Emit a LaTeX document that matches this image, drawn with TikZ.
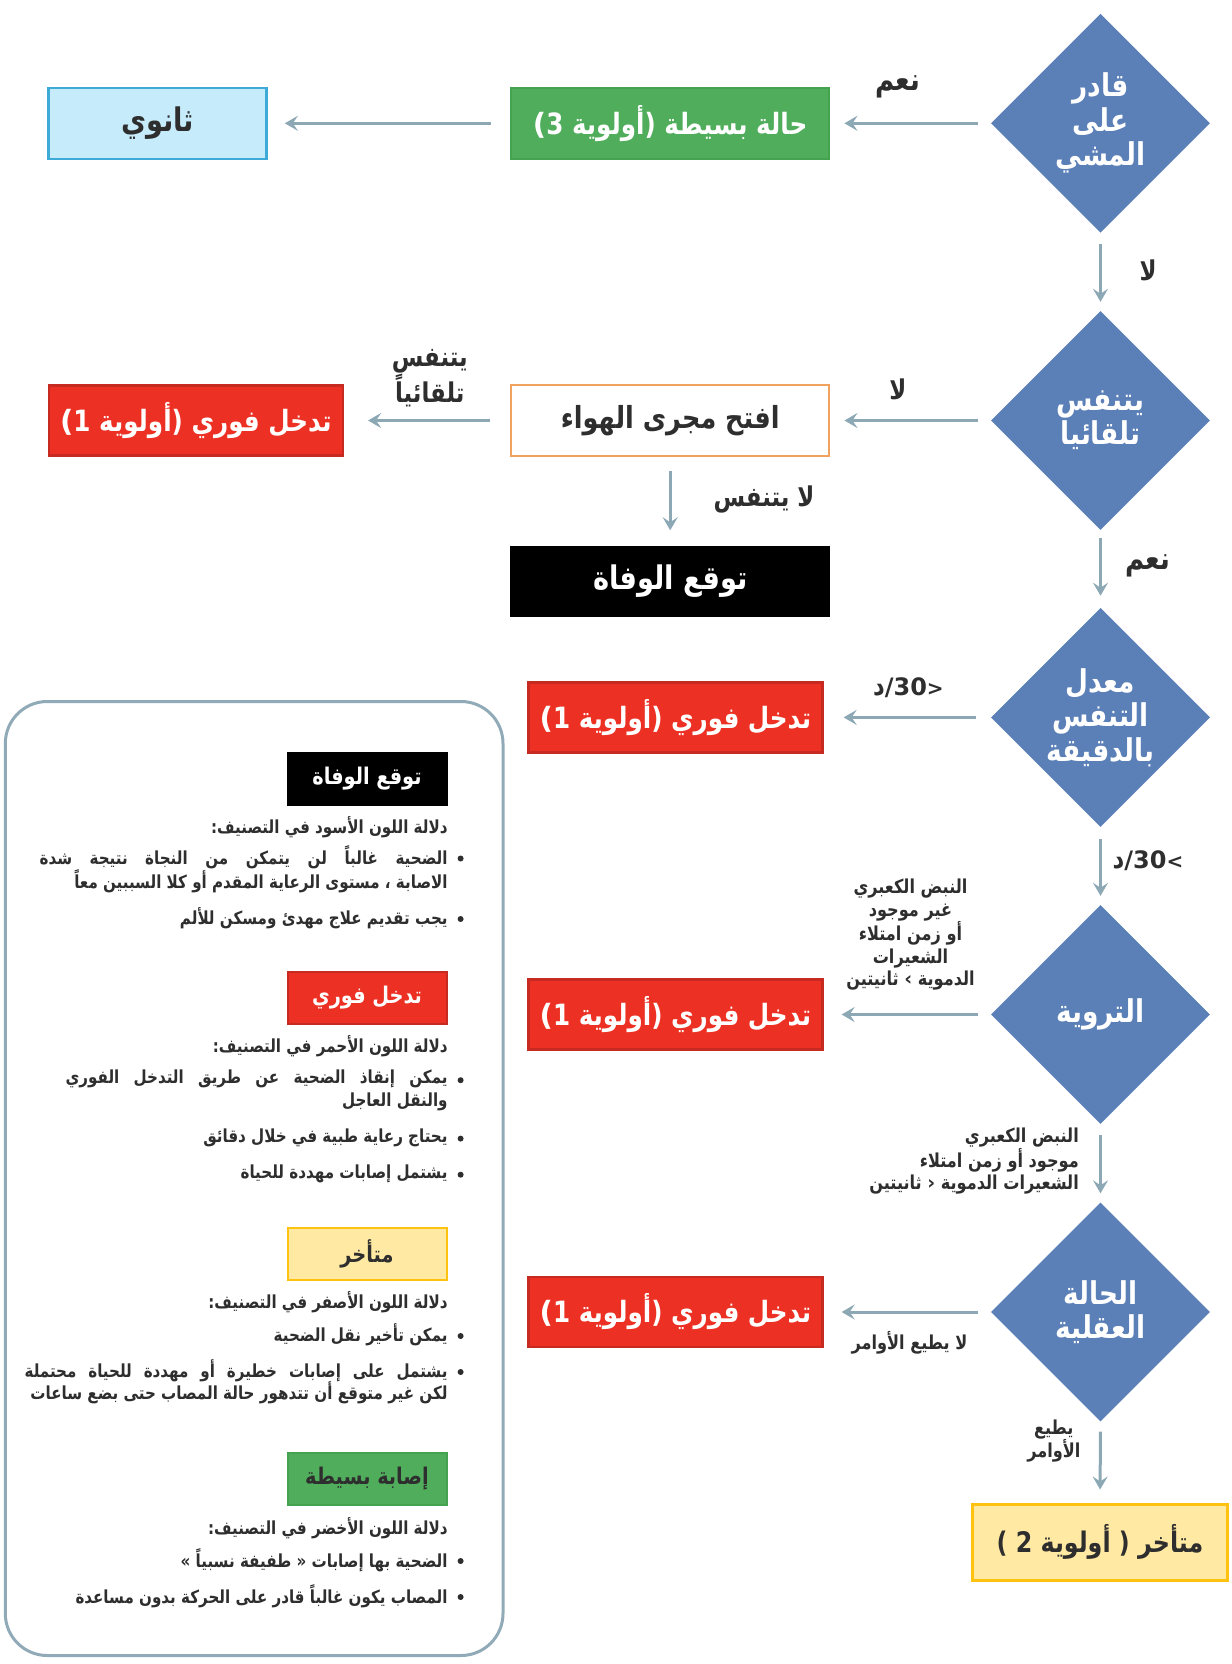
\documentclass[tikz,border=0pt]{standalone}
\usepackage{fontspec}
\setmainfont{DejaVu Sans}
\newfontfamily\ar[Script=Arabic,FakeStretch=0.84]{DejaVu Sans}
\newfontfamily\lt{DejaVu Sans}
\TeXXeTstate=1
\usetikzlibrary{shapes.geometric,arrows.meta}
\newcommand\AR[1]{{\ar\beginR #1\endR}}
\newcommand\JL[2]{\hbox to #1pt{\ar\beginR\spaceskip=0.25em plus 1fil\relax #2\endR}}
\newcommand\PR[1]{#1\kern0pt{\lt(}}
\definecolor{diab}{HTML}{5B7FB7}
\definecolor{arrc}{HTML}{8DA8B5}
\definecolor{greenf}{HTML}{50AD5C}
\definecolor{greenl}{HTML}{44A34F}
\definecolor{redf}{HTML}{EC3124}
\definecolor{redl}{HTML}{C62A20}
\definecolor{yelf}{HTML}{FFE9A3}
\definecolor{yell}{HTML}{FFC20F}
\definecolor{bluef}{HTML}{C6ECFB}
\definecolor{bluel}{HTML}{3DAAD8}
\definecolor{orangel}{HTML}{F0A25E}
\definecolor{txt}{HTML}{2E2E2E}
\definecolor{panelc}{HTML}{91AAB8}
\begin{document}
\begin{tikzpicture}[x=1pt,y=-1pt,
 every node/.style={text=txt, inner sep=0pt},
 diam/.style={shape=diamond, aspect=1, fill=diab, draw=none, minimum width=219pt, minimum height=219pt, text=white, align=center, font=\fontsize{31.4}{34.5}\selectfont\bfseries},
 flowbox/.style={shape=rectangle, line width=2.5pt, minimum height=71pt, align=center, font=\fontsize{29.3}{32}\selectfont\bfseries},
 arr/.style={draw=arrc, line width=3pt, -{Stealth[length=13pt,width=15pt,inset=5pt]}, shorten <=13pt, shorten >=14pt},
 elab/.style={font=\fontsize{27.2}{28.6}\selectfont\bfseries, align=center},
 slab/.style={font=\fontsize{19.2}{22.3}\selectfont\bfseries, align=center},
 legbox/.style={shape=rectangle, line width=2pt, minimum width=159pt, minimum height=52pt, font=\fontsize{23}{24}\selectfont\bfseries},
 ltxt/.style={anchor=east, font=\fontsize{18}{21}\selectfont\bfseries, align=right},
 bul/.style={fill=txt}
]
\useasboundingbox (0,0) rectangle (1231,1664);

% decision diamonds
\node[diam] (d1) at (1100.5,123.3) {\AR{قادر}\\\AR{على}\\\AR{المشي}};
\node[diam] (d2) at (1100.5,420.5) {\AR{يتنفس}\\\AR{تلقائيا}};
\node[diam] (d3) at (1100.5,717.4) {\AR{معدل}\\\AR{التنفس}\\\AR{بالدقيقة}};
\node[diam] (d4) at (1100.5,1014.5) {\AR{التروية}};
\node[diam] (d5) at (1100.5,1312) {\AR{الحالة}\\\AR{العقلية}};

% outcome boxes
\node[flowbox, fill=bluef, draw=bluel, minimum width=218pt, font=\fontsize{32.5}{34}\selectfont\bfseries] (sec) at (157.6,123.3) {\AR{ثانوي}};
\node[flowbox, fill=greenf, draw=greenl, text=white, minimum width=318pt] (simple) at (670.2,123.3) {\AR{حالة بسيطة (أولوية \PR{3}}};
\node[flowbox, fill=white, draw=orangel, minimum width=318pt, font=\fontsize{30.4}{32}\selectfont\bfseries] (airway) at (670.2,420.5) {\AR{افتح مجرى الهواء}};
\node[flowbox, fill=redf, draw=redl, text=white, minimum width=294pt, minimum height=70pt] (r1) at (195.8,420.5) {\AR{تدخل فوري (أولوية \PR{1}}};
\node[flowbox, fill=black, draw=black, text=white, minimum width=318pt, minimum height=68pt, font=\fontsize{32.5}{34}\selectfont\bfseries] (dead) at (670.2,581.5) {\AR{توقع الوفاة}};
\node[flowbox, fill=redf, draw=redl, text=white, minimum width=294pt, minimum height=70pt] (r2) at (675.4,717.4) {\AR{تدخل فوري (أولوية \PR{1}}};
\node[flowbox, fill=redf, draw=redl, text=white, minimum width=294pt, minimum height=70pt] (r3) at (675.4,1014.5) {\AR{تدخل فوري (أولوية \PR{1}}};
\node[flowbox, fill=redf, draw=redl, text=white, minimum width=294pt, minimum height=70pt] (r4) at (675.4,1312) {\AR{تدخل فوري (أولوية \PR{1}}};
\node[flowbox, fill=yelf, draw=yell, line width=3pt, minimum width=255pt, minimum height=76pt, font=\fontsize{28.3}{34}\selectfont\bfseries] (delayed) at (1100,1542) {\AR{متأخر ( أولوية 2 )}};

% connectors
\draw[arr] (d1.west) -- (simple.east);
\draw[arr, shorten <=19pt, shorten >=17pt] (simple.west) -- (sec.east);
\draw[arr, shorten <=11pt, shorten >=9pt] (d1.south) -- (d2.north);
\draw[arr] (d2.west) -- (airway.east);
\draw[arr, shorten <=20pt, shorten >=24pt] (airway.west) -- (r1.east);
\draw[arr, shorten <=14pt, shorten >=16pt] (airway.south) -- (dead.north);
\draw[arr, shorten <=8pt, shorten >=12pt] (d2.south) -- (d3.north);
\draw[arr, shorten <=15pt, shorten >=20pt] (d3.west) -- (r2.east);
\draw[arr, shorten <=12pt, shorten >=9pt] (d3.south) -- (d4.north);
\draw[arr, shorten <=13pt, shorten >=18pt] (d4.west) -- (r3.east);
\draw[arr, shorten <=11pt, shorten >=9pt] (d4.south) -- (d5.north);
\draw[arr, shorten <=13pt, shorten >=18pt] (d5.west) -- (r4.east);
\draw[arr, shorten <=10pt, shorten >=13pt] (d5.south) -- (delayed.north);

% connector labels
\node[elab, font=\fontsize{31}{32}\selectfont\bfseries] (l1) at (897.8,87) {\AR{نعم}};
\node[elab] (l2) at (1148,270.6) {\AR{لا}};
\node[elab] (l3) at (897.8,389.5) {\AR{لا}};
\node[elab] (l4) at (429.8,378) {\AR{يتنفس}\\\AR{تلقائياً}};
\node[elab] (l5) at (764,499.8) {\AR{لا يتنفس}};
\node[elab, font=\fontsize{31}{32}\selectfont\bfseries] (l6) at (1148,565.6) {\AR{نعم}};
\node[elab] (l7) at (908.4,687.7) {{\ar د}{\lt\fontsize{24}{26}\selectfont /30{\fontsize{20}{22}\selectfont>}}};
\node[elab] (l8) at (1148,860.6) {{\ar د}{\lt\fontsize{24}{26}\selectfont /30{\fontsize{20}{22}\selectfont<}}};
\node[slab] (l9) at (910.5,934.8) {\AR{النبض الكعبري}\\\AR{غير موجود}\\\AR{أو زمن امتلاء}\\\AR{الشعيرات}\\\AR{الدموية {\lt ‹} ثانيتين}};
\node[slab, align=right, anchor=east] (l10) at (1079,1161) {\AR{النبض الكعبري}\\\AR{موجود أو زمن امتلاء}\\\AR{الشعيرات الدموية {\lt ›} ثانيتين}};
\node[slab] (l11) at (909.5,1342.4) {\AR{لا يطيع الأوامر}};
\node[slab] (l12) at (1053.8,1441) {\AR{يطيع}\\\AR{الأوامر}};

% legend panel
\draw[draw=panelc, line width=3pt, rounded corners=42pt] (5.3,701.5) rectangle (503,1655.5);

\node[legbox, fill=black, draw=black, text=white] (kb) at (367,779) {\AR{توقع الوفاة}};
\node[ltxt] (kb0) at (447.8,826.7) {\AR{دلالة اللون الأسود في التصنيف:}};
\node[ltxt] (kb1a) at (447.8,857.5) {\JL{408}{الضحية غالباً لن يتمكن من النجاة نتيجة شدة}};
\node[ltxt] (kb1b) at (447.8,880.8) {\AR{الاصابة ، مستوى الرعاية المقدم أو كلا السببين معاً}};
\node[ltxt] (kb2) at (447.8,918) {\AR{يجب تقديم علاج مهدئ ومسكن للألم}};

\node[legbox, fill=redf, draw=redl, text=white] (kr) at (367,997.5) {\AR{تدخل فوري}};
\node[ltxt] (kr0) at (447.8,1046.3) {\AR{دلالة اللون الأحمر في التصنيف:}};
\node[ltxt] (kr1a) at (447.8,1079.2) {\JL{382}{يمكن إنقاذ الضحية عن طريق التدخل الفوري}};
\node[ltxt] (kr1b) at (447.8,1101.5) {\AR{والنقل العاجل}};
\node[ltxt] (kr2) at (447.8,1137.6) {\AR{يحتاج رعاية طبية في خلال دقائق}};
\node[ltxt] (kr3) at (447.8,1173.7) {\AR{يشتمل إصابات مهددة للحياة}};

\node[legbox, fill=yelf, draw=yell] (ky) at (367,1253.8) {\AR{متأخر}};
\node[ltxt] (ky0) at (447.8,1302.1) {\AR{دلالة اللون الأصفر في التصنيف:}};
\node[ltxt] (ky1) at (447.8,1335) {\AR{يمكن تأخير نقل الضحية}};
\node[ltxt] (ky2a) at (447.8,1371) {\JL{423}{يشتمل على إصابات خطيرة أو مهددة للحياة محتملة}};
\node[ltxt] (ky2b) at (447.8,1392.3) {\AR{لكن غير متوقع أن تتدهور حالة المصاب حتى بضع ساعات}};

\node[legbox, fill=greenf, draw=greenl] (kg) at (367,1478.8) {\AR{إصابة بسيطة}};
\node[ltxt] (kg0) at (447.8,1528) {\AR{دلالة اللون الأخضر في التصنيف:}};
\node[ltxt] (kg1) at (447.8,1560) {\AR{الضحية بها إصابات « طفيفة نسبياً »}};
\node[ltxt] (kg2) at (447.8,1596) {\AR{المصاب يكون غالباً قادر على الحركة بدون مساعدة}};

% bullets
\foreach \yy in {857.5,918,1079.2,1137.6,1173.7,1335,1371,1560,1596}
  \fill[bul] (460.6,\yy+1) circle (3pt);
\end{tikzpicture}
\end{document}
